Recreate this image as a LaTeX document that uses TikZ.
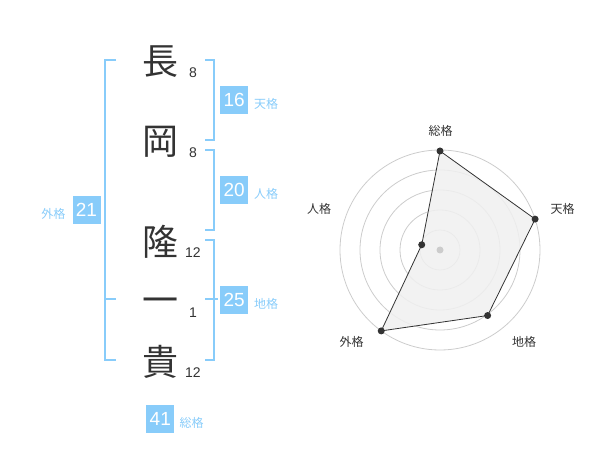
\documentclass[tikz,border=0pt]{standalone}
\usepackage{fontspec}
\newfontfamily\jp{Noto Sans CJK JP}
\newfontfamily\numf{Liberation Sans}
\definecolor{sky}{RGB}{136,204,250}
\definecolor{ink}{RGB}{51,51,51}
\definecolor{ring}{RGB}{204,204,204}
\definecolor{area}{RGB}{240,240,240}
\tikzset{
  kanji/.style={inner sep=0pt, text=ink, font=\jp\fontsize{36}{36}\selectfont},
  stroke/.style={inner sep=0pt, text=ink, font=\numf\fontsize{14}{14}\selectfont},
  scorebox/.style={fill=sky, minimum width=28pt, minimum height=28pt, inner sep=0pt, text=white, font=\numf\fontsize{19}{19}\selectfont},
  kaku/.style={inner sep=0pt, text=sky, font=\jp\fontsize{12}{12}\selectfont},
  bracket/.style={draw=sky, line width=2pt},
  radlabel/.style={inner sep=0pt, text=ink, font=\jp\fontsize{12}{12}\selectfont},
  ringline/.style={draw=ring, line width=0.8pt},
  vdot/.style={circle, fill=ink, inner sep=0pt, minimum size=7pt},
}
\begin{document}
\begin{tikzpicture}[x=1pt, y=-1pt]
\useasboundingbox (0,0) rectangle (600,470);
% name characters
\node[kanji] (c1) at (160,62) {長};
\node[kanji] (c2) at (160,142) {岡};
\node[kanji] (c3) at (160,242) {隆};
\node[kanji] (c4) at (160,306) {一};
\node[kanji] (c5) at (160,362) {貴};
\node[stroke] (n1) at (193,73) {8};
\node[stroke] (n2) at (193,153) {8};
\node[stroke] (n3) at (193,253) {12};
\node[stroke] (n4) at (193,313) {1};
\node[stroke] (n5) at (193,373) {12};
% brackets
\draw[bracket] (205,60) -- (214,60) -- (214,140) -- (205,140);
\draw[bracket] (205,150) -- (214,150) -- (214,230) -- (205,230);
\draw[bracket] (205,240) -- (214,240) -- (214,360) -- (205,360);
\draw[bracket] (205,299) -- (218,299);
\draw[bracket] (116,60) -- (105,60) -- (105,360) -- (116,360);
\draw[bracket] (105,299) -- (116,299);
% score boxes
\node[scorebox] (b1) at (234.2,100.2) {16};
\node[kaku] (l1) at (266,104) {天格};
\node[scorebox] (b2) at (234.2,190.2) {20};
\node[kaku] (l2) at (266,194) {人格};
\node[scorebox] (b3) at (234.2,300.2) {25};
\node[kaku] (l3) at (266,304) {地格};
\node[scorebox] (b4) at (86.5,210.2) {21};
\node[kaku] (l4) at (53.3,214) {外格};
\node[scorebox] (b5) at (160.3,419.2) {41};
\node[kaku] (l5) at (191.7,423) {総格};
% radar
\begin{scope}[shift={(440,250)}]
  \foreach \r in {20,40,60,80,100} \draw[ringline] (0,0) circle (\r pt);
  \coordinate (p1) at (90:99pt);
  \coordinate (p2) at (18:100pt);
  \coordinate (p3) at (-54:81pt);
  \coordinate (p4) at (-126:100pt);
  \coordinate (p5) at (164:19pt);
  \fill[area, fill opacity=0.85] (p1) -- (p2) -- (p3) -- (p4) -- (p5) -- cycle;
  \fill[ring] (0,0) circle (3.5pt);
  \draw[ink, line width=0.8pt] (p1) -- (p2) -- (p3) -- (p4) -- (p5) -- cycle;
  \foreach \p in {p1,p2,p3,p4,p5} \node[vdot] at (\p) {};
\end{scope}
\node[radlabel] (r1) at (440.5,131) {総格};
\node[radlabel] (r2) at (562.5,209) {天格};
\node[radlabel] (r3) at (524,342) {地格};
\node[radlabel] (r4) at (351.5,342) {外格};
\node[radlabel] (r5) at (319,209) {人格};
\end{tikzpicture}
\end{document}
